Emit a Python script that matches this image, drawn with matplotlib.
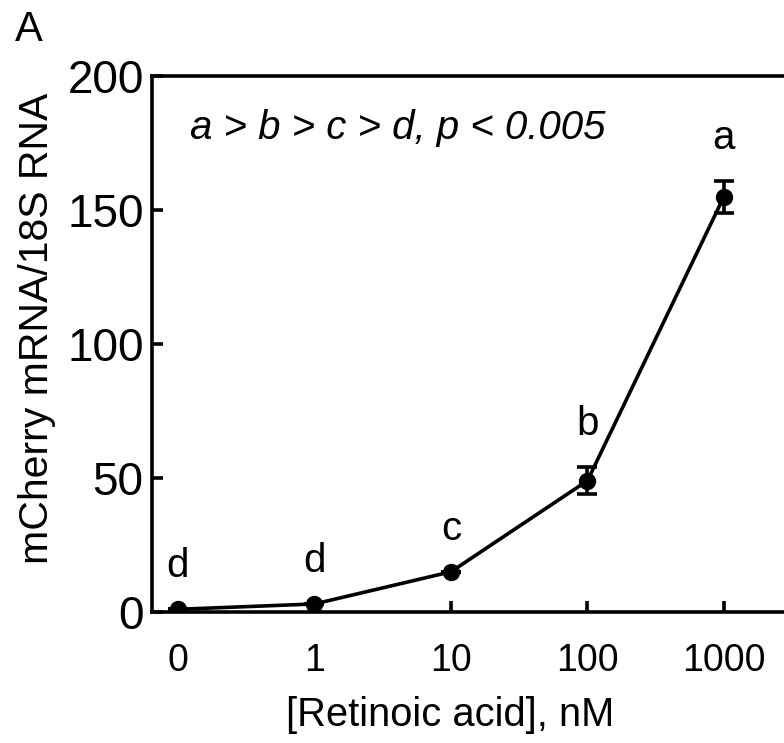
import numpy as np
import matplotlib
matplotlib.use("Agg")
import matplotlib.pyplot as plt

plt.rcParams["font.family"] = ["Liberation Sans", "DejaVu Sans"]

# data
doses = ["0", "1", "10", "100", "1000"]
means = [1, 3, 15, 49, 155]
errs = [0, 0, 0, 5, 6]
letters = ["d", "d", "c", "b", "a"]

x = np.arange(len(doses))

fig = plt.figure(figsize=(7.84, 7.43), dpi=100)
# left spine at ~152px, bottom at ~612px, top at ~76px
ax = fig.add_axes([152 / 784, (743 - 612) / 743, 1 - 152 / 784, (612 - 76) / 743])

ax.errorbar(x, means, yerr=errs, color="black", lw=2.6, marker="o", ms=11.5,
            capsize=7, capthick=2.6, elinewidth=2.6)

for xi, m, e, lab in zip(x, means, errs, letters):
    ax.annotate(lab, (xi, m + e), xytext=(0, 23), textcoords="offset points",
                ha="center", va="baseline", fontsize=29)

ax.text(0.06, 0.903, "a > b > c > d, p < 0.005", transform=ax.transAxes,
        fontsize=29, style="italic", ha="left", va="center")

ax.set_xlim(-0.19, 4.44)
ax.set_ylim(0, 200)
ax.set_xticks(x)
ax.set_xticklabels(doses)
ax.set_yticks([0, 50, 100, 150, 200])

for s in ["left", "top", "bottom"]:
    ax.spines[s].set_linewidth(2.6)
ax.spines["right"].set_visible(False)
ax.tick_params(direction="in", length=8, width=2.6)
ax.tick_params(axis="y", labelsize=33, pad=6)
ax.tick_params(axis="x", labelsize=27, pad=22)

ax.set_xlabel("[Retinoic acid], nM", fontsize=28.7)
ax.set_ylabel("mCherry mRNA/18S RNA", fontsize=29.5)
ax.xaxis.set_label_coords(0.4715, -0.157)
ax.yaxis.set_label_coords(-0.152, 0.53)

fig.text(15 / 784, 1 - 30 / 743, "A", fontsize=30, ha="left", va="center")

fig.savefig("out.png", dpi=100)
